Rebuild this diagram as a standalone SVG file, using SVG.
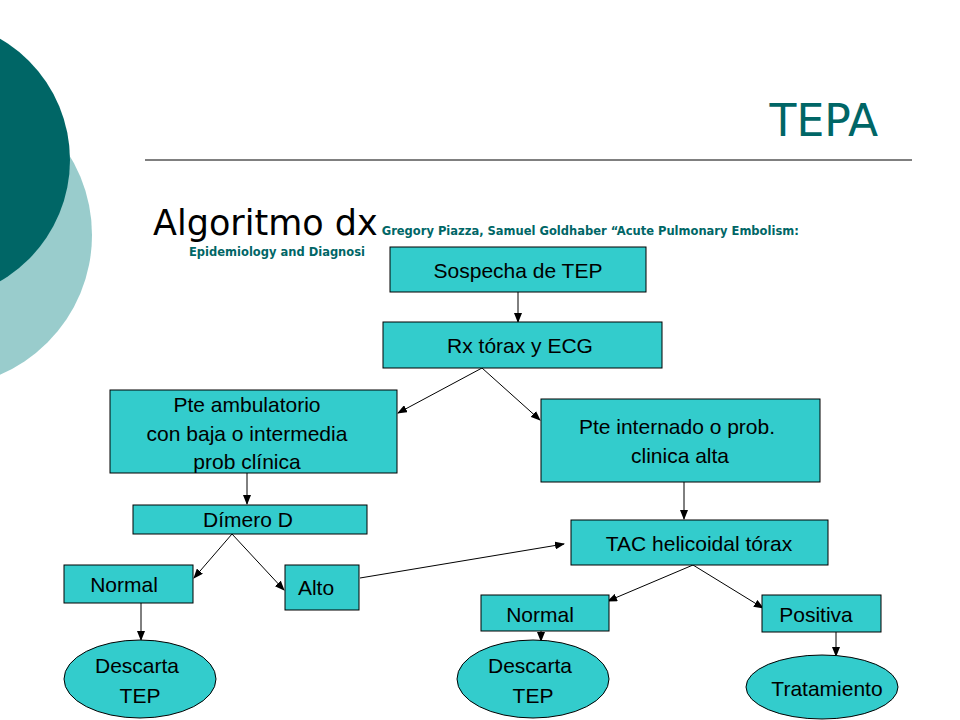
<svg xmlns="http://www.w3.org/2000/svg" width="960" height="720" viewBox="0 0 960 720">
<defs>
<marker id="ah" markerWidth="10" markerHeight="8" refX="9" refY="4" orient="auto" markerUnits="userSpaceOnUse"><path d="M0,0 L10,4 L0,8 z" fill="#000"/></marker>
<style>
.b{fill:#33CCCC;stroke:#000;stroke-width:1}
.t{font-family:"Liberation Sans",Verdana,sans-serif;font-size:21px;fill:#000;text-anchor:middle}
.c line{stroke:#000;stroke-width:1;marker-end:url(#ah)}
</style>
</defs>
<rect width="960" height="720" fill="#fff"/>
<circle cx="-60" cy="235" r="152" fill="#99CCCC"/>
<circle cx="-70" cy="160" r="140" fill="#006666"/>
<text x="878" y="136" font-family="Verdana,'DejaVu Sans',sans-serif" font-size="44" fill="#006666" text-anchor="end">TEPA</text>
<line x1="145" y1="160" x2="912" y2="160" stroke="#000" stroke-width="1"/>
<text x="153" y="235" font-family="'DejaVu Sans',Verdana,sans-serif" font-size="35" fill="#000">Algoritmo dx<tspan font-size="11.5" font-weight="bold" fill="#006666" dy="0"> Gregory Piazza, Samuel Goldhaber “Acute Pulmonary Embolism:</tspan></text>
<text x="189" y="256" font-family="'DejaVu Sans',Verdana,sans-serif" font-size="11.5" font-weight="bold" fill="#006666">Epidemiology and Diagnosi</text>
<g class="c">
<line x1="518" y1="292" x2="518" y2="322"/>
<line x1="482" y1="368" x2="398" y2="413"/>
<line x1="482" y1="368" x2="540" y2="420"/>
<line x1="247" y1="473" x2="247" y2="504"/>
<line x1="684" y1="482" x2="684" y2="519"/>
<line x1="232" y1="534" x2="194" y2="578"/>
<line x1="232" y1="534" x2="284" y2="590"/>
<line x1="360" y1="578" x2="564" y2="544"/>
<line x1="693" y1="565" x2="608" y2="601"/>
<line x1="693" y1="565" x2="763" y2="608"/>
<line x1="141" y1="603" x2="141" y2="640"/>
<line x1="541" y1="631" x2="541" y2="641"/>
<line x1="836" y1="632" x2="836" y2="656"/>
</g>
<g id="n1"><rect class="b" x="390" y="247" width="256" height="45"/><text class="t" x="518" y="278">Sospecha de TEP</text></g>
<g id="n2"><rect class="b" x="383" y="322" width="279" height="46"/><text class="t" x="520" y="353">Rx tórax y ECG</text></g>
<g id="n3"><rect class="b" x="110" y="390" width="287" height="83"/><text class="t" x="247" y="412">Pte ambulatorio</text><text class="t" x="247" y="441">con baja o intermedia</text><text class="t" x="247" y="469">prob clínica</text></g>
<g id="n4"><rect class="b" x="541" y="399" width="279" height="83"/><text class="t" x="677" y="434">Pte internado o prob.</text><text class="t" x="680" y="463">clinica alta</text></g>
<g id="n5"><rect class="b" x="133" y="505" width="234" height="29"/><text class="t" x="248" y="527">Dímero D</text></g>
<g id="n6"><rect class="b" x="571" y="520" width="257" height="45"/><text class="t" x="699" y="551">TAC helicoidal tórax</text></g>
<g id="n7"><rect class="b" x="64" y="565" width="129" height="38"/><text class="t" x="124" y="592">Normal</text></g>
<g id="n8"><rect class="b" x="285" y="565" width="74" height="45"/><text class="t" x="316" y="595">Alto</text></g>
<g id="n9"><rect class="b" x="481" y="595" width="128" height="36"/><text class="t" x="540" y="622">Normal</text></g>
<g id="n10"><rect class="b" x="762" y="595" width="119" height="37"/><text class="t" x="816" y="622">Positiva</text></g>
<g id="n11"><ellipse class="b" cx="140" cy="679" rx="76" ry="39"/><text class="t" x="137" y="673">Descarta</text><text class="t" x="140" y="703">TEP</text></g>
<g id="n12"><ellipse class="b" cx="533" cy="679" rx="76" ry="39"/><text class="t" x="530" y="673">Descarta</text><text class="t" x="533" y="703">TEP</text></g>
<g id="n13"><ellipse class="b" cx="822" cy="687" rx="76" ry="32"/><text class="t" x="827" y="696">Tratamiento</text></g>
</svg>
